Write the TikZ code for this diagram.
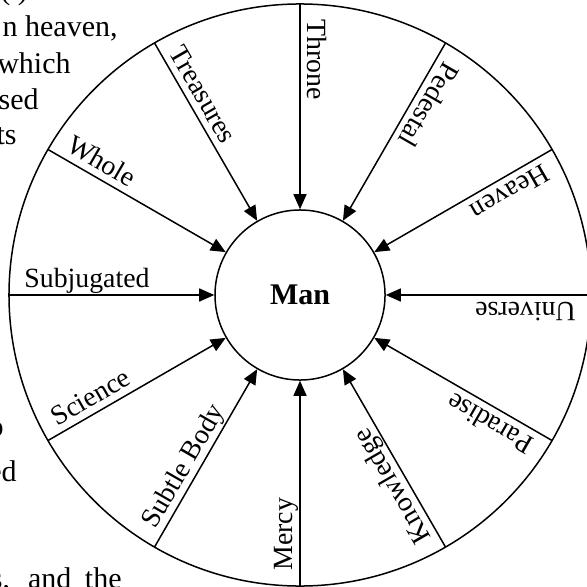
\documentclass[tikz,border=0pt]{standalone}
\usepackage{fontspec}
\setmainfont{Liberation Serif}
\usetikzlibrary{arrows.meta, calc}

\begin{document}
\begin{tikzpicture}[
  spoke/.style={line width=0.75pt, -{Triangle[length=7.5pt,width=6.5pt]}},
  lbl/.style={font=\fontsize{13.9}{16}\selectfont, inner sep=0pt, anchor=base west},
  body/.style={font=\fontsize{15}{18}\selectfont, inner sep=0pt, anchor=base east}]

\useasboundingbox (-5.272,-5.131) rectangle (5.043,5.184);

% wheel
\draw[line width=0.75pt] (0,0) circle (5.114);
\node[circle,draw,line width=0.75pt,inner sep=0pt,minimum size=2.988cm,
  font=\fontsize{15}{18}\selectfont\bfseries] (man) at (0,0) {Man};

\foreach \a/\t in {0/Universe,30/Heaven,60/Pedestal,90/Throne,120/Treasures,
  150/Whole,180/Subjugated,210/Science,240/Subtle Body,270/Mercy,
  300/Knowledge,330/Paradise}{
  \coordinate (o\a) at (\a:5.114);
  \draw[spoke] (o\a) -- (man);
  \node[lbl,rotate=\a+180] (l\a) at ($(\a:4.85)+(\a-90:0.13)$) {\t};
}

% cut-off running text on the left
\node[body,anchor=base west] (t0) at (-5.272,5.184) {( )};
\node[body] (t1) at (-3.198,4.534) {n heaven,};
\node[body] (t2) at (-4.024,3.901) {which};
\node[body] (t3) at (-4.587,3.251) {sed};
\node[body] (t4) at (-4.973,2.636) {ts};
\node[body] (t5) at (-5.202,-2.495) {o};
\node[body] (t6) at (-4.973,-3.269) {ed};
\node[body] (t7) at (-3.128,-5.149) {s,\hspace{0.6em}and\hspace{0.45em}the};

\end{tikzpicture}
\end{document}
